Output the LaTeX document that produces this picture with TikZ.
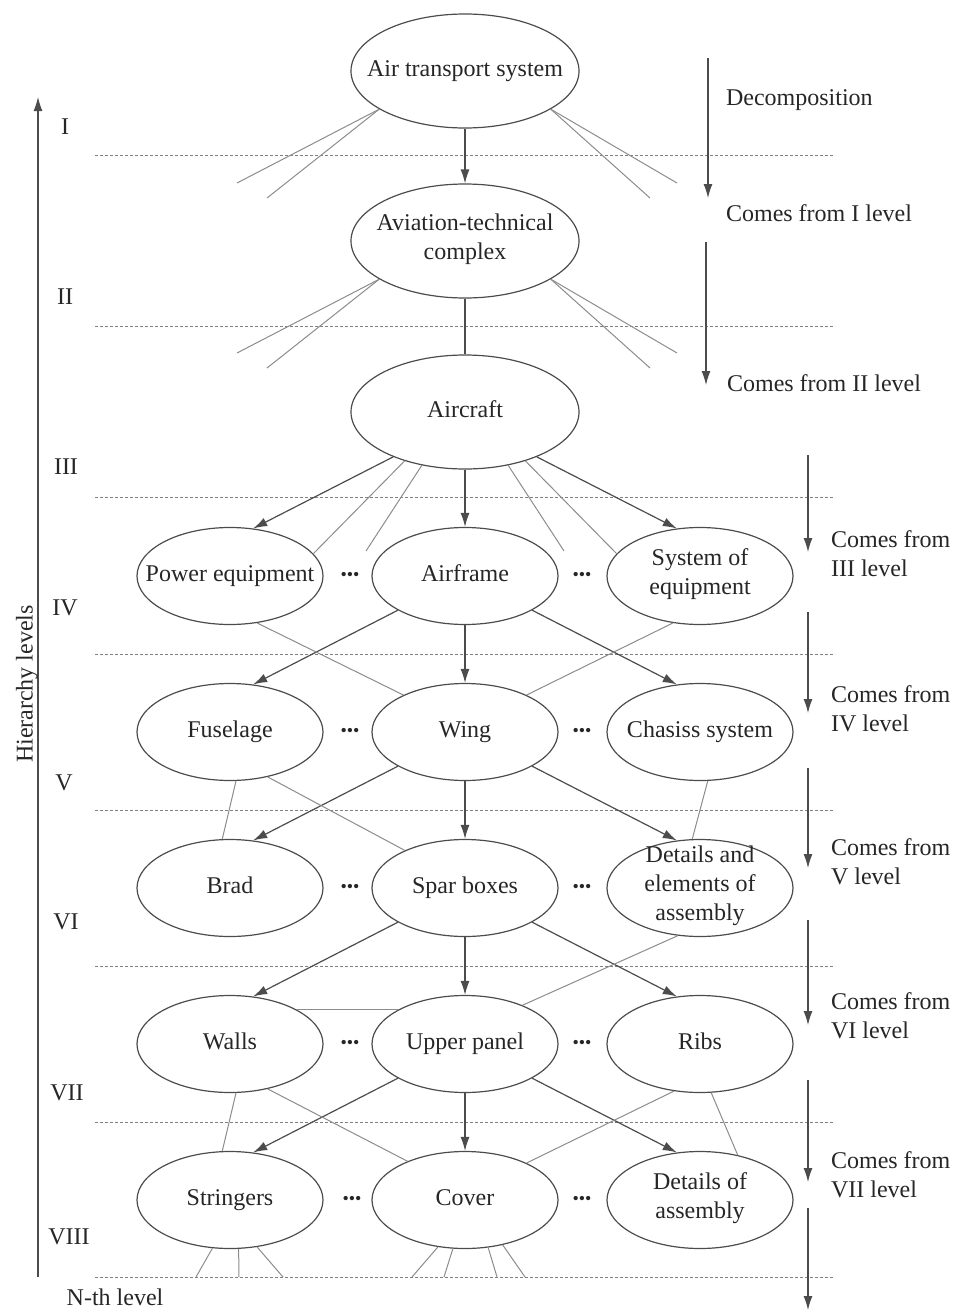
\documentclass[tikz,border=0pt]{standalone}
\usepackage{fontspec}
\setmainfont{Liberation Serif}
\usetikzlibrary{shapes.geometric,arrows.meta}

\newcommand{\moredots}{{\fontsize{9}{9}\selectfont\textbullet\textbullet\textbullet}}

\begin{document}
\begin{tikzpicture}[
    x=0.5pt, y=-0.5pt,
    every node/.style={font=\fontsize{12}{14.5}\selectfont, text=black!85},
    sysbox/.style={ellipse, draw=black!70, line width=0.6pt, minimum width=114pt, minimum height=57pt, inner sep=-12pt, align=center, execute at begin node=\strut, execute at end node=\strut},
    elem/.style={ellipse, draw=black!70, line width=0.6pt, minimum width=93pt, minimum height=48.5pt, inner sep=-12pt, align=center, execute at begin node=\strut, execute at end node=\strut},
    link/.style={draw=black!45, line width=0.5pt},
    divider/.style={draw=black!50, line width=0.5pt, dash pattern=on 1.5pt off 1pt},
    dec/.style={->, draw=black!70, line width=0.6pt},
    >={Latex[length=7pt,width=4.5pt]}
]
\useasboundingbox (0,0) rectangle (959,1312);

% Livelli superiori
\node[sysbox] (ats) at (465,71) {Air transport system};
\node[sysbox] (atc) at (465,241) {Aviation-technical\\complex};
\node[sysbox] (ac) at (465,412) {Aircraft};

% Elementi
\node[elem] (pe) at (230,576) {Power equipment};
\node[elem] (af) at (465,576) {Airframe};
\node[elem] (se) at (700,576) {System of\\equipment};
\node[elem] (fu) at (230,732) {Fuselage};
\node[elem] (wi) at (465,732) {Wing};
\node[elem] (cs) at (700,732) {Chasiss system};
\node[elem] (br) at (230,888) {Brad};
\node[elem] (sb) at (465,888) {Spar boxes};
\node[elem] (de) at (700,888) {Details and\\elements of\\assembly};
\node[elem] (wa) at (230,1044) {Walls};
\node[elem] (up) at (465,1044) {Upper panel};
\node[elem] (ri) at (700,1044) {Ribs};
\node[elem] (st) at (230,1200) {Stringers};
\node[elem] (co) at (465,1200) {Cover};
\node[elem] (da) at (700,1200) {Details of\\assembly};

% Puntini
\node (d4a) at (350,576) {\moredots};
\node (d4b) at (582,576) {\moredots};
\node (d5a) at (350,732) {\moredots};
\node (d5b) at (582,732) {\moredots};
\node (d6a) at (350,888) {\moredots};
\node (d6b) at (582,888) {\moredots};
\node (d7a) at (350,1044) {\moredots};
\node (d7b) at (582,1044) {\moredots};
\node (d8a) at (352,1200) {\moredots};
\node (d8b) at (582,1200) {\moredots};

% Separatori
\draw[divider] (95,155) -- (835,155);
\draw[divider] (95,326) -- (835,326);
\draw[divider] (95,497) -- (835,497);
\draw[divider] (95,654) -- (835,654);
\draw[divider] (95,810) -- (835,810);
\draw[divider] (95,966) -- (835,966);
\draw[divider] (95,1122) -- (835,1122);
\draw[divider] (95,1277) -- (835,1277);

% Asse dei livelli
\coordinate (ax0) at (38,1277);
\coordinate (ax1) at (38,97);
\draw[dec] (ax0) -- (ax1);
\node[rotate=90] (hl) at (27,684) {Hierarchy levels};
\node (r1) at (65,127) {I};
\node (r2) at (65,297) {II};
\node (r3) at (66,467) {III};
\node (r4) at (65,608) {IV};
\node (r5) at (64,783) {V};
\node (r6) at (66,922) {VI};
\node (r7) at (67,1093) {VII};
\node (r8) at (69,1237) {VIII};
\node (rn) at (115,1297) {N-th level};

% Frecce di decomposizione
\coordinate (s1) at (708,58);   \coordinate (e1) at (708,198);
\coordinate (s2) at (706,242);  \coordinate (e2) at (706,385);
\coordinate (s3) at (808,455);  \coordinate (e3) at (808,552);
\coordinate (s4) at (808,612);  \coordinate (e4) at (808,713);
\coordinate (s5) at (808,768);  \coordinate (e5) at (808,868);
\coordinate (s6) at (808,920);  \coordinate (e6) at (808,1025);
\coordinate (s7) at (808,1080); \coordinate (e7) at (808,1182);
\coordinate (s8) at (808,1208); \coordinate (e8) at (808,1310);
\draw[dec] (s1) -- (e1);
\draw[dec] (s2) -- (e2);
\draw[dec] (s3) -- (e3);
\draw[dec] (s4) -- (e4);
\draw[dec] (s5) -- (e5);
\draw[dec] (s6) -- (e6);
\draw[dec] (s7) -- (e7);
\draw[dec] (s8) -- (e8);
\node[anchor=west] (t0) at (719,100) {Decomposition};
\node[anchor=west] (t1) at (719,213) {Comes from I level};
\node[anchor=west] (t2) at (720,383) {Comes from II level};
\node[anchor=west, align=left] (t3) at (824,554) {Comes from\\III level};
\node[anchor=west, align=left] (t4) at (824,709) {Comes from\\IV level};
\node[anchor=west, align=left] (t5) at (824,862) {Comes from\\V level};
\node[anchor=west, align=left] (t6) at (824,1016) {Comes from\\VI level};
\node[anchor=west, align=left] (t7) at (824,1175) {Comes from\\VII level};

% Legami I e II
\coordinate (f1) at (237,183); \coordinate (f2) at (267,198);
\coordinate (f3) at (677,183); \coordinate (f4) at (650,198);
\draw[link] (ats.204) -- (f1);
\draw[link] (ats.204) -- (f2);
\draw[link] (ats.336) -- (f3);
\draw[link] (ats.336) -- (f4);
\coordinate (g1) at (237,353); \coordinate (g2) at (267,368);
\coordinate (g3) at (677,353); \coordinate (g4) at (650,368);
\draw[link] (atc.204) -- (g1);
\draw[link] (atc.204) -- (g2);
\draw[link] (atc.336) -- (g3);
\draw[link] (atc.336) -- (g4);
\draw[dec] (ats) -- (atc);
\draw[dec, -] (atc) -- (ac);

% Livello III -> IV
\coordinate (h1) at (366,551); \coordinate (h2) at (564,551);
\draw[dec] (ac.212) -- (pe.64);
\draw[dec] (ac) -- (af);
\draw[dec] (ac.328) -- (se.116);
\draw[link] (ac.219) -- (pe.15);
\draw[link] (ac.231) -- (h1);
\draw[link] (ac.309) -- (h2);
\draw[link] (ac.321) -- (se.165);

% Livello IV -> V
\draw[dec] (af.207) -- (fu.64);
\draw[dec] (af) -- (wi);
\draw[dec] (af.333) -- (cs.116);
\draw[link] (pe.300) -- (wi.149);
\draw[link] (se.240) -- (wi.31);

% Livello V -> VI
\draw[dec] (wi.207) -- (br.64);
\draw[dec] (wi) -- (sb);
\draw[dec] (wi.333) -- (de.116);
\draw[link] (fu.277) -- (br.99);
\draw[link] (fu.310) -- (sb.148);
\draw[link] (cs.279) -- (de.99);

% Livello VI -> VII
\draw[dec] (sb.207) -- (wa.64);
\draw[dec] (sb) -- (up);
\draw[dec] (sb.333) -- (ri.116);
\draw[link] (de.245) -- (up.34);
\draw[link] (wa.28) -- (up.152);

% Livello VII -> VIII
\draw[dec] (up.207) -- (st.64);
\draw[dec] (up) -- (co);
\draw[dec] (up.333) -- (da.116);
\draw[link] (wa.277) -- (st.99);
\draw[link] (wa.310) -- (co.146);
\draw[link] (ri.241) -- (co.31);
\draw[link] (ri.283) -- (da.50);

% Verso il livello N
\coordinate (n1) at (196,1277); \coordinate (n2) at (239,1277);
\coordinate (n3) at (283,1277); \coordinate (n4) at (412,1277);
\coordinate (n5) at (444,1277); \coordinate (n6) at (497,1277);
\coordinate (n7) at (525,1277);
\draw[link] (st.250) -- (n1);
\draw[link] (st.280) -- (n2);
\draw[link] (st.300) -- (n3);
\draw[link] (co.240) -- (n4);
\draw[link] (co.256) -- (n5);
\draw[link] (co.296) -- (n6);
\draw[link] (co.310) -- (n7);
\end{tikzpicture}
\end{document}
